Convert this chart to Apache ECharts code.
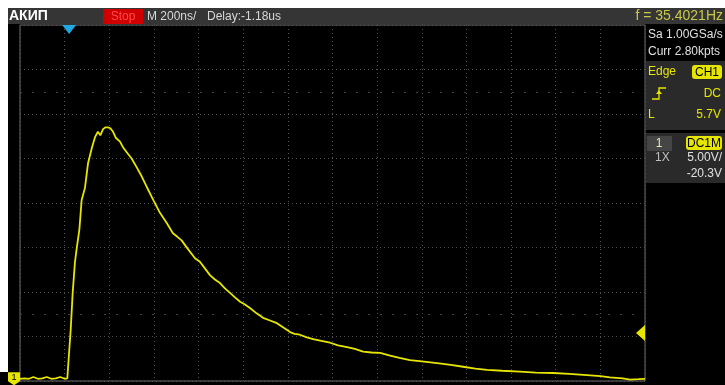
<!DOCTYPE html>
<html><head><meta charset="utf-8">
<script src="https://cdn.jsdelivr.net/npm/echarts@6/dist/echarts.min.js"></script>
<style>html,body{margin:0;padding:0;background:#fff}#c{width:725px;height:385px}</style>
</head><body><div id="c"></div>
<script>
// time in ns from left edge of screen (200 ns/div, 14 div)
var times = [0,20,40,60,80,100,120,140,160,180,200,212,218,227,236,246,254,266,276,291,305,323,336,349,360,372,383,394,405,417,430,448,463,478,500,523,545,568,598,627,656,685,705,724,750,784,806,830,851,873,896,918,941,963,986,1008,1030,1060,1089,1120,1151,1180,1210,1230,1254,1285,1313,1350,1389,1425,1465,1500,1537,1575,1613,1658,1700,1747,1800,1868,1930,1985,2040,2092,2160,2240,2310,2388,2460,2540,2600,2643,2700,2733,2770,2800];
// volts above screen bottom (5 V/div, 8 div)
var volts = [0.25,0.3,0.25,0.45,0.25,0.3,0.45,0.25,0.3,0.45,0.25,0.3,2.5,5.7,9.9,13.3,14.9,17.0,20.3,21.7,24.5,26.3,27.4,28.0,27.6,28.3,28.5,28.5,28.4,28.0,27.3,26.9,26.2,25.7,25.0,24.0,23.0,21.8,20.3,18.9,17.8,16.6,16.2,15.8,14.9,13.8,13.4,12.6,11.9,11.4,11.0,10.4,9.9,9.4,8.9,8.6,8.2,7.6,7.1,6.8,6.5,6.0,5.5,5.3,5.2,4.9,4.7,4.5,4.3,4.0,3.8,3.6,3.3,3.2,3.15,2.85,2.6,2.35,2.2,2.0,1.8,1.6,1.4,1.25,1.15,1.05,0.95,0.9,0.8,0.67,0.55,0.4,0.3,0.15,0.2,0.25];
var triggerTime = 220;
var triggerLevel = 5.4;
var halfLines = [7.5, 32.5];

var seriesData = times.map(function(t,i){return [t, volts[i]];});
var FONT = '"Liberation Sans", Arial, sans-serif';
var YEL = '#e6e600';

var chart = echarts.init(document.getElementById('c'), null, {renderer:'canvas'});
function txt(x,y,s,color,size,align,weight){
  return {type:'text', left:undefined, x:x, y:y, z:100,
    style:{text:s, fill:color, font:(weight||'normal')+' '+size+'px '+FONT, textAlign:align||'left', textVerticalAlign:'middle'}};
}
function rect(x,y,w,h,fill,r){
  return {type:'rect', z:50, shape:{x:x,y:y,width:w,height:h,r:r||0}, style:{fill:fill}};
}
var graphics = [
  rect(0,0,725,8,'#ffffff'),
  rect(0,8,8,364,'#ffffff'),
  rect(8,8,717,16,'#353535'),
  txt(9,16.5,'АКИП','#ffffff',14,'left','bold'),
  rect(103,9,40,15,'#d00000'),
  txt(123,16.5,'Stop','#ff4a4a',12,'center'),
  txt(147,16.5,'M 200ns/','#d8d8d8',12,'left'),
  txt(207,16.5,'Delay:-1.18us','#d8d8d8',12,'left'),
  txt(723,16.5,'f = 35.4021Hz','#c8c84a',14,'right'),
  txt(648,35,'Sa 1.00GSa/s','#e0e0e0',12,'left'),
  txt(648,52,'Curr 2.80kpts','#e0e0e0',12,'left'),
  rect(646,61,79,69,'#2a2a2a'),
  txt(648,72,'Edge',YEL,12,'left'),
  rect(692,65,30,14,YEL,3),
  txt(707,72.5,'CH1','#000000',12,'center'),
  {type:'polyline', z:100, shape:{points:[[652,99],[659,99],[659,88],[666,88]]}, style:{stroke:YEL, lineWidth:1.3, fill:null}},
  {type:'polygon', z:100, shape:{points:[[656,94],[662,94],[659,90]]}, style:{fill:YEL}},
  txt(721,94,'DC',YEL,12,'right'),
  txt(648,115,'L',YEL,12,'left'),
  txt(721,115,'5.7V',YEL,12,'right'),
  rect(646,133,79,50,'#2a2a2a'),
  rect(647,136,25,15,'#454545'),
  txt(659,143.5,'1','#e8e8b0',12,'center'),
  rect(686,136,36,14,YEL,3),
  txt(704,143.5,'DC1M','#000000',12,'center'),
  txt(655,158,'1X','#c0c0c0',12,'left'),
  txt(722,158,'5.00V/','#e0e0e0',12,'right'),
  txt(722,174,'-20.3V','#e0e0e0',12,'right')
];

var option = {
  backgroundColor:'#000000',
  animation:false,
  grid:{left:20, top:25, width:625, height:356, show:true, borderColor:'#6e6e6e', borderWidth:1, backgroundColor:'#000'},
  xAxis:{type:'value', min:0, max:2800, interval:200,
    axisLine:{show:false}, axisTick:{show:false}, axisLabel:{show:false},
    splitLine:{show:true, lineStyle:{color:'#505050', type:[1,3], width:1}}},
  yAxis:{type:'value', min:0, max:40, interval:5,
    axisLine:{show:false}, axisTick:{show:false}, axisLabel:{show:false},
    splitLine:{show:true, lineStyle:{color:'#505050', type:[1,3], width:1}}},
  graphic:graphics,
  series:[{
    type:'line', data:seriesData, showSymbol:false, clip:false,
    lineStyle:{color:YEL, width:1.8}, itemStyle:{color:YEL},
    markLine:{silent:true, symbol:'none', label:{show:false},
      lineStyle:{color:'#404040', type:[2,10], width:1},
      data: halfLines.map(function(v){return {yAxis:v};})},
    markPoint:{silent:true, data:[
      {coord:[triggerTime,40], symbol:'triangle', symbolRotate:180, symbolSize:[14,9], symbolOffset:[0,4.5],
        itemStyle:{color:'#22a8e0'}, label:{show:false}},
      {coord:[2800,triggerLevel], symbol:'triangle', symbolRotate:90, symbolSize:[16,9], symbolOffset:[-4.5,0],
        itemStyle:{color:YEL}, label:{show:false}},
      {coord:[0,volts[0]], symbol:'path://M0,0 L12,0 L12,9 L6,13 L0,9 Z', symbolSize:[12,13], symbolOffset:[-6,0],
        itemStyle:{color:YEL}, label:{show:true, formatter:'1', color:'#000', fontSize:9, fontFamily:'Liberation Sans', offset:[0,-1]}}
    ]}
  }]
};
chart.setOption(option);
</script></body></html>
